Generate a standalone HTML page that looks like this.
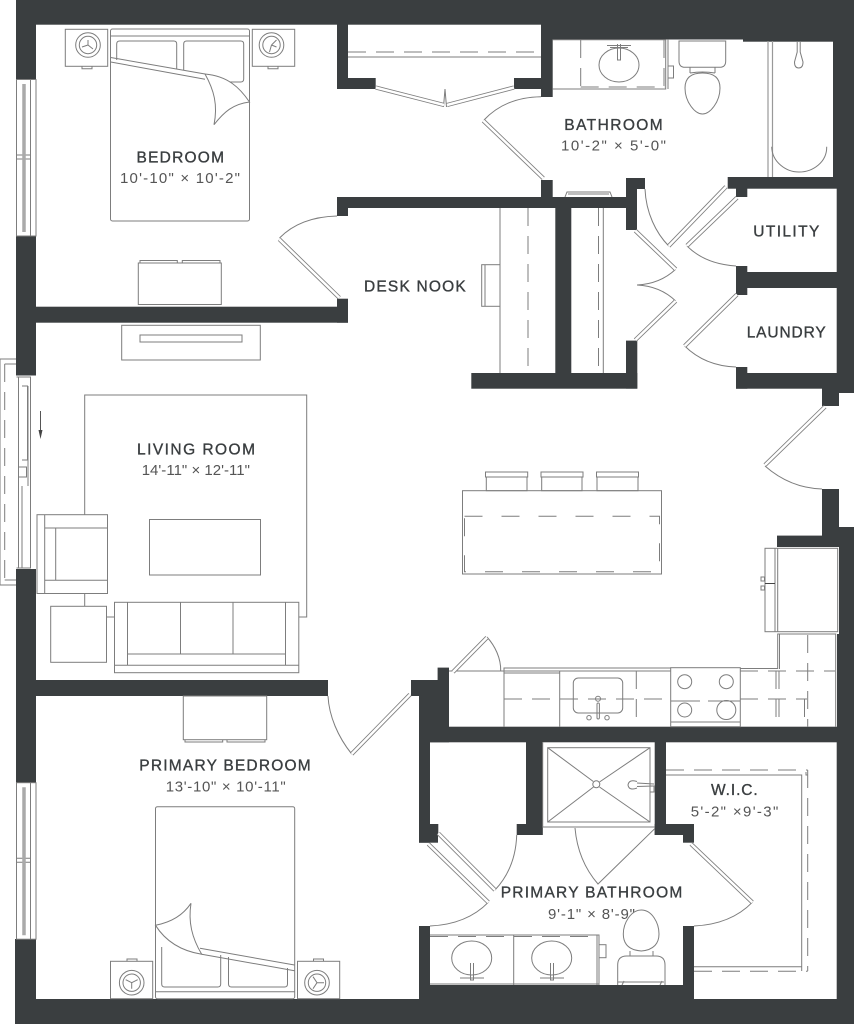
<!DOCTYPE html>
<html><head><meta charset="utf-8"><style>
html,body{margin:0;padding:0;background:#fff}
svg{display:block}
.w rect{fill:#3a3e40}
.l *{fill:none;stroke:#7d7d7d;stroke-width:1}
.d line{stroke-dasharray:18 10}
.door line.o{stroke:#7d7d7d;stroke-width:4.2}
.door line.i{stroke:#fff;stroke-width:2.5}
text{font-family:"Liberation Sans",sans-serif;fill:#3a3e40}
.h{font-size:15.5px;stroke:#3a3e40;stroke-width:.35}
.s{font-size:15px;fill:#555}
</style></head><body>
<svg width="854" height="1024" viewBox="0 0 854 1024" xmlns="http://www.w3.org/2000/svg">
<g class="w">
<rect x="16" y="0" width="838" height="24.7"/>
<rect x="16" y="0" width="20" height="79.5"/>
<rect x="16" y="236" width="20" height="139.5"/>
<rect x="16" y="569" width="20" height="214"/>
<rect x="15" y="939" width="21" height="85"/>
<rect x="15" y="999" width="839" height="25"/>
<rect x="36" y="306.7" width="312" height="16"/>
<rect x="337" y="298.7" width="11" height="24"/>
<rect x="337" y="197" width="11" height="19"/>
<rect x="337" y="197" width="289" height="11"/>
<rect x="337" y="20" width="11" height="69"/>
<rect x="337" y="78" width="38.7" height="11"/>
<rect x="541" y="20" width="11.7" height="77"/>
<rect x="514" y="78" width="38" height="11"/>
<rect x="541" y="0" width="313" height="39.5"/>
<rect x="743" y="0" width="111" height="41.7"/>
<rect x="833" y="0" width="21" height="188"/>
<rect x="727.7" y="177" width="126.3" height="11.7"/>
<rect x="736" y="177" width="11.3" height="20"/>
<rect x="836.7" y="177" width="17.3" height="216"/>
<rect x="541" y="180" width="11.7" height="28"/>
<rect x="626" y="178" width="19" height="11"/>
<rect x="626" y="178" width="11" height="52"/>
<rect x="555.3" y="208" width="16" height="170"/>
<rect x="471.3" y="373" width="166" height="15.7"/>
<rect x="626" y="340.6" width="11.3" height="48"/>
<rect x="736" y="266" width="11.3" height="29"/>
<rect x="736" y="272" width="101" height="16"/>
<rect x="736" y="367" width="11.3" height="21.7"/>
<rect x="736" y="373" width="118" height="15.7"/>
<rect x="822" y="373" width="17" height="33"/>
<rect x="822" y="489" width="17" height="58"/>
<rect x="777" y="535.6" width="77" height="11.4"/>
<rect x="839" y="527" width="15" height="215"/>
<rect x="837" y="634" width="17" height="108"/>
<rect x="411" y="680" width="38" height="16"/>
<rect x="437.6" y="667.6" width="11.4" height="60"/>
<rect x="419" y="680" width="30" height="62.3"/>
<rect x="419" y="726.7" width="435" height="15.6"/>
<rect x="36" y="680" width="292" height="16"/>
<rect x="419" y="742" width="11" height="100.7"/>
<rect x="430" y="824" width="8.3" height="11"/>
<rect x="419" y="835" width="19" height="7.7"/>
<rect x="526" y="742" width="16.7" height="93"/>
<rect x="516.7" y="824" width="26" height="11"/>
<rect x="654.7" y="742" width="11.3" height="93"/>
<rect x="654.7" y="824" width="39.3" height="11"/>
<rect x="683" y="824" width="11" height="18.7"/>
<rect x="419" y="926" width="11" height="98"/>
<rect x="683" y="926" width="11" height="98"/>
<rect x="419" y="985" width="275" height="39"/>
<rect x="836.7" y="742" width="17.3" height="282"/>
</g>

<g class="l">
<rect x="110.5" y="29" width="139" height="192" rx="2"/>
<line x1="110.5" y1="36" x2="249.5" y2="36"/>
<path d="M116.7 60V44q0-3 3-3h54q3 0 3 3v25M183.7 70V44q0-3 3-3h54q3 0 3 3v35q0 3-3 3h-11"/>
<path d="M110.7 57.5L205 74M110.7 62L205 79.3"/>
<path d="M205 74C228 76 240 88 249.5 102C233 104 224 112 214 124.7C218 105 214 90 205 74Z"/>
<rect x="65.3" y="29.3" width="42.4" height="37"/><path d="M82 66.3v2.4h10v-2.4"/>
<circle cx="88" cy="45" r="12.3"/><circle cx="88" cy="45" r="8.7"/><path d="M88 45v-5M88 45l5 4M88 45l-6 2"/>
<rect x="252.3" y="29.3" width="42.4" height="37"/><path d="M268 66.3v2.4h10v-2.4"/>
<circle cx="271.5" cy="45" r="12.3"/><circle cx="271.5" cy="45" r="8.7"/><path d="M271.5 45l5-5M271.5 45l5 2M271.5 45l-2 7"/>
<rect x="138.3" y="263" width="83" height="41.5"/>
<path d="M140 263v-2.5h37.3v2.5M182.3 263v-2.5H220v2.5"/>

<line x1="348" y1="57" x2="541" y2="57"/>
<g class="d"><line x1="348" y1="52" x2="541" y2="52"/></g>
<path d="M445 89L443.5 107M445 89L446.5 107"/>

<line x1="500" y1="208" x2="500" y2="373"/>
<g class="d"><line x1="528" y1="208" x2="528" y2="373"/><line x1="598.5" y1="208" x2="598.5" y2="373"/></g>
<line x1="603.3" y1="208" x2="603.3" y2="373"/>
<rect x="481.7" y="264.7" width="18.3" height="41.6"/><line x1="485" y1="264.7" x2="485" y2="306.3"/>

<path d="M552.7 39.7H665.7V89H552.7"/>
<line x1="668" y1="39.7" x2="668" y2="89"/>
<g class="d"><line x1="580.7" y1="40" x2="580.7" y2="88"/><line x1="580.7" y1="87" x2="665" y2="87"/><line x1="664" y1="40" x2="664" y2="87"/></g>
<ellipse cx="619" cy="65" rx="20" ry="17"/>
<path d="M607 45.5h24M610 47.5h18M617.5 44v16h3v-16"/>
<rect x="668" y="66" width="5.5" height="12"/>
<path d="M679 41h46.7v20q0 6.3-6 6.300h-34.700q-6 0-6-6.300z"/>
<path d="M690 67v6M715 67v6M690 73Q702.5 71 715 73"/>
<path d="M702.5 73C714 73 720 78 720 88C720 102 710 114 702.5 114C695 114 685 102 685 88C685 78 691 73 702.5 73Z"/>
<path d="M768 41V177M772.5 41V177" style="stroke:#999;stroke-width:1.2"/>
<path d="M771.7 146.7C772 162 786 172 799 172C813 172 827 162 826.7 146.7"/>
<path d="M797.2 42V52L794.5 62Q794.5 68 798.7 68Q803 68 803 62L800.2 52V42"/>
<path d="M565 197L567 192H610L612 197M568 194H609"/>

<path d="M84.7 514.7V395H306.7V617H298.800M84.7 593.5V606.3M106.5 617H114.5"/>
<rect x="37" y="514.7" width="70.5" height="78.8"/>
<path d="M44.7 514.7V593.5M44.7 528H107.5M44.7 580.3H107.5M55.7 528V580.3"/>
<rect x="50.7" y="606.3" width="55.8" height="56"/>
<rect x="149.5" y="519.5" width="111" height="55.5"/>
<rect x="114.5" y="602.3" width="184.3" height="70.4"/>
<path d="M127.5 602.3V665.3M285.5 602.3V665.3M114.5 665.3H298.8M127.5 654H285.5M180.5 602.3V654M233 602.3V654"/>
<rect x="121.7" y="325.3" width="138.6" height="34.7"/>
<rect x="140" y="335" width="102" height="7"/>
<path d="M40.5 411v24" style="stroke:#555"/>

<path d="M16 359H0V585H16M4.7 364H16M4.7 580H16"/>
<g class="d"><line x1="4.7" y1="364" x2="4.7" y2="580"/></g>
<path d="M16.5 377H30.5V568H16.5M18.5 377V568M22 486V568M28 386V486M22 386H27.5V460H22M19 467H26.5V477H19"/>

<rect x="462.5" y="490.7" width="199" height="83.3"/>
<rect x="464.5" y="516.3" width="195" height="55.5" style="stroke-dasharray:18 19"/>
<rect x="486.3" y="477" width="40.7" height="13.7"/><rect x="485.5" y="472" width="42.2" height="5"/>
<rect x="541.7" y="477" width="40.3" height="13.7"/><rect x="541" y="472" width="42" height="5"/>
<rect x="597" y="477" width="41" height="13.7"/><rect x="596.5" y="472" width="42" height="5"/>

<rect x="765" y="548.3" width="72.7" height="83.4"/>
<path d="M775 548.3V631.7M777.7 548.3V631.7"/>
<line x1="765" y1="583.5" x2="775" y2="583.5" style="stroke:#444"/>
<rect x="761" y="577" width="3.5" height="4"/><rect x="761" y="586" width="3.5" height="4"/>

<path d="M504 726.7V668H671M504 671H671M504 673H559.7M740 668.5H777.7V634H835.7V726.7M779.5 634V669M449 671H504"/>
<path d="M559.7 671V726.7"/>
<g class="d">
<line x1="636.3" y1="671" x2="636.3" y2="726.7"/>
<line x1="504" y1="699" x2="671" y2="699"/>
<line x1="740" y1="671" x2="835" y2="671"/>
<line x1="740" y1="699" x2="807" y2="699"/>
<line x1="807.7" y1="635" x2="807.7" y2="726.7"/>
<line x1="776" y1="671" x2="776" y2="726.7"/><line x1="779" y1="671" x2="779" y2="726.7"/>
<line x1="804.5" y1="699" x2="804.5" y2="726.7"/>
</g>
<rect x="573.3" y="678" width="49.4" height="35" rx="5"/>
<circle cx="598" cy="698.7" r="2.5"/><rect x="597" y="703" width="2.4" height="16" rx="1.2"/>
<circle cx="589" cy="717.7" r="2.2"/><circle cx="607" cy="717.7" r="2.2"/>
<rect x="670.7" y="667.7" width="69.6" height="59"/>
<path d="M670.7 722H740.3M670.7 701H700M708 701H740.3"/>
<circle cx="684.7" cy="681.7" r="7"/><circle cx="726.3" cy="681.7" r="7"/>
<circle cx="684.7" cy="710" r="7"/><circle cx="726.3" cy="710" r="9.5"/>

<path d="M279.5 238Q300 217 337 216"/>
<path d="M484 120C500 103 520 97 541 96.7"/>
<path d="M645 189C646 213 656 233 668.7 246"/>
<path d="M675.7 269.3Q660 284 637 285M675.7 301Q660 286 637 285"/>
<path d="M687 246Q705 264 736 266"/>
<path d="M684.7 346Q705 366 736 367"/>
<path d="M765 466Q790 488 822 489"/>
<path d="M487 637C495 646 501 658 500.7 671"/>
<path d="M328 696C329 716 338 737 351.7 754"/>
<path d="M495 890C509 875 516 857 516.7 835"/>
<path d="M488.3 902.3C473 918 452 925 430 926"/>
<path d="M752.3 902.3C737 918 716 925 694 926"/>

<rect x="183.3" y="696" width="83.4" height="43.7"/>
<path d="M185 739.7v2.3h37.7v-2.3M227 739.7v2.3h38v-2.3"/>
<rect x="155.5" y="806.7" width="139.2" height="192" rx="2"/>
<line x1="155.5" y1="991.7" x2="294.7" y2="991.7"/>
<path d="M161.7 947V984q0 3 3 3h53q3 0 3-3V955M228.5 957V984q0 3 3 3h53q3 0 3-3V968"/>
<path d="M200 948.3L294.5 965M201.7 954.3L294.5 970.7"/>
<path d="M155.5 925.3C172 922 183 915 191 903.3C188 922 192 938 201.7 954.3C182 951 166 942 155.5 925.3Z"/>
<rect x="110.5" y="961.3" width="42.2" height="37.4"/><path d="M127 961.3V959h10v2.3"/>
<circle cx="131.7" cy="982.7" r="12.3"/><circle cx="131.7" cy="982.7" r="8.7"/><path d="M131.7 982.7v6M131.7 982.7l6-3M131.7 982.7l-6-3"/>
<rect x="297.5" y="961.3" width="42.2" height="37.4"/><path d="M313.5 961.3V959h10v2.3"/>
<circle cx="317" cy="982.7" r="12.3"/><circle cx="317" cy="982.7" r="8.7"/><path d="M317 982.7l-4-6M317 982.7l-4 6M317 982.7h7"/>

<rect x="547.7" y="747.7" width="102.3" height="74.3"/>
<path d="M542.7 742V827H654.7"/>
<path d="M547.7 747.7L593.3 781.5M650 747.7L599.5 782M547.7 822L593.5 787M650 822L599.5 787"/>
<circle cx="596.3" cy="784.3" r="3.5"/>
<path d="M575 828C577 851 585 869 598 884L654.7 828.7"/>
<path d="M637 783L654 784M637 786.5L654 786M637 781.5Q629 779 628 785Q629 791 637 788"/>
<rect x="650" y="786" width="4" height="6"/>

<path d="M666 775H801.7V971M694 966.7H801.7"/>
<path d="M806 772V775H808"/>
<g class="d">
<line x1="666" y1="770" x2="807.7" y2="770"/>
<line x1="807.7" y1="770" x2="807.7" y2="971"/>
<line x1="694" y1="971.3" x2="807.7" y2="971.3"/>
</g>

<path d="M430 935H599V985M430 984H599M513.7 935V985M597 935V985"/>
<g class="d"><line x1="430" y1="936.5" x2="597" y2="936.5"/></g>
<ellipse cx="471.7" cy="958" rx="20" ry="17"/><ellipse cx="551.7" cy="958" rx="20" ry="17"/>
<path d="M460 978h24M470.5 963V980h3V963M540 978h24M550.5 963V980h3V963"/>
<rect x="599" y="944.7" width="7" height="13"/>
<path d="M641.3 910C652 910 659 923 659 934C659 943 654 950 641.3 951C628 950 623.3 943 623.3 934C623.3 923 631 910 641.3 910Z"/>
<path d="M630 951V956M653 951V956"/>
<path d="M617.7 985V965q0-9 9-9h29.3q9 0 9 9V985"/>
<path d="M618 982h46M622 985l2-4M660 985l2-4"/>
</g>

<g class="l">
<rect x="16.5" y="79.5" width="19.5" height="156.5"/>
<path d="M30.5 79.5V236M16.5 155H30.5M16.5 159H30.5"/>
<path d="M24 84V232" style="stroke:#aaa;stroke-width:3.5"/>
<rect x="16.5" y="782.7" width="19.5" height="156.5"/>
<path d="M30.5 782.7V939.2M16.5 858.2H30.5M16.5 862.2H30.5"/>
<path d="M24 787.2V935.2" style="stroke:#aaa;stroke-width:3.5"/>
</g>
<path d="M38.5 430h4l-2 9z" fill="#444"/>

<g class="door">
<line class="o" x1="279.3" y1="239.3" x2="339.3" y2="297.7"/><line class="i" x1="279.3" y1="239.3" x2="339.3" y2="297.7"/>
<line class="o" x1="375.7" y1="87.5" x2="444" y2="105"/><line class="i" x1="375.7" y1="87.5" x2="444" y2="105"/>
<line class="o" x1="514" y1="87.5" x2="447" y2="105"/><line class="i" x1="514" y1="87.5" x2="447" y2="105"/>
<line class="o" x1="483.3" y1="120.7" x2="543.3" y2="178.3"/><line class="i" x1="483.3" y1="120.7" x2="543.3" y2="178.3"/>
<line class="o" x1="668.7" y1="246" x2="726" y2="186.7"/><line class="i" x1="668.7" y1="246" x2="726" y2="186.7"/>
<line class="o" x1="687" y1="245.7" x2="737" y2="197.7"/><line class="i" x1="687" y1="245.7" x2="737" y2="197.7"/>
<line class="o" x1="684.7" y1="346" x2="737" y2="294.5"/><line class="i" x1="684.7" y1="346" x2="737" y2="294.5"/>
<line class="o" x1="635.3" y1="230.7" x2="675.7" y2="269.3"/><line class="i" x1="635.3" y1="230.7" x2="675.7" y2="269.3"/>
<line class="o" x1="635.3" y1="340" x2="675.7" y2="301"/><line class="i" x1="635.3" y1="340" x2="675.7" y2="301"/>
<line class="o" x1="825" y1="406.7" x2="765" y2="465"/><line class="i" x1="825" y1="406.7" x2="765" y2="465"/>
<line class="o" x1="453" y1="672" x2="487" y2="637.5"/><line class="i" x1="453" y1="672" x2="487" y2="637.5"/>
<line class="o" x1="351.7" y1="754" x2="410" y2="694.5"/><line class="i" x1="351.7" y1="754" x2="410" y2="694.5"/>
<line class="o" x1="438.3" y1="833.3" x2="495" y2="890"/><line class="i" x1="438.3" y1="833.3" x2="495" y2="890"/>
<line class="o" x1="428.3" y1="844" x2="488.3" y2="902.3"/><line class="i" x1="428.3" y1="844" x2="488.3" y2="902.3"/>
<line class="o" x1="691" y1="844" x2="752.3" y2="902.3"/><line class="i" x1="691" y1="844" x2="752.3" y2="902.3"/>
</g>

<text class="h" x="136.5" y="162.7" textLength="87.5">BEDROOM</text>
<text class="s" x="120" y="183" textLength="120">10'-10" × 10'-2"</text>
<text class="h" x="364" y="291.7" textLength="101.7">DESK NOOK</text>
<text class="h" x="564.3" y="130" textLength="98.4">BATHROOM</text>
<text class="s" x="561" y="150.7" textLength="105">10'-2" × 5'-0"</text>
<text class="h" x="753.3" y="236.7" textLength="66">UTILITY</text>
<text class="h" x="746.7" y="337.3" textLength="79">LAUNDRY</text>
<text class="h" x="137" y="454.3" textLength="118">LIVING ROOM</text>
<text class="s" x="141.7" y="475" textLength="108.3">14'-11" × 12'-11"</text>
<text class="h" x="139.3" y="770.7" textLength="171.4">PRIMARY BEDROOM</text>
<text class="s" x="165.7" y="791.3" textLength="120">13'-10" × 10'-11"</text>
<text class="h" x="711" y="795" textLength="46.7">W.I.C.</text>
<text class="s" x="690.7" y="816.7" textLength="87.6">5'-2" ×9'-3"</text>
<text class="h" x="500.7" y="897.7" textLength="181.6">PRIMARY BATHROOM</text>
<text class="s" x="548" y="919" textLength="87">9'-1" × 8'-9"</text>
</svg>
</body></html>
